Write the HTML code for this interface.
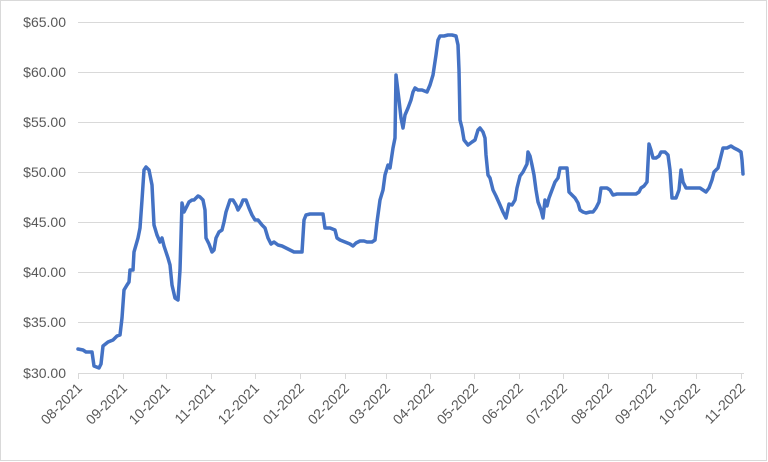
<!DOCTYPE html>
<html><head><meta charset="utf-8"><style>
html,body{margin:0;padding:0;background:#fff;}
svg{display:block;font-family:"Liberation Sans",sans-serif;}
</style></head><body>
<svg width="768" height="462" viewBox="0 0 768 462">
<rect x="0.5" y="0.5" width="766" height="460" fill="#fff" stroke="#d9d9d9"/>
<g stroke="#d9d9d9" stroke-width="1">
<line x1="78" x2="744" y1="22.5" y2="22.5"/>
<line x1="78" x2="744" y1="72.5" y2="72.5"/>
<line x1="78" x2="744" y1="122.5" y2="122.5"/>
<line x1="78" x2="744" y1="172.5" y2="172.5"/>
<line x1="78" x2="744" y1="222.5" y2="222.5"/>
<line x1="78" x2="744" y1="272.5" y2="272.5"/>
<line x1="78" x2="744" y1="322.5" y2="322.5"/>
<line x1="78" x2="744" y1="373.5" y2="373.5"/>
<path d="M78.5 373v6M123.5 373v6M166.5 373v6M211.5 373v6M255.5 373v6M300.5 373v6M345.5 373v6M386.5 373v6M430.5 373v6M474.5 373v6M519.5 373v6M563.5 373v6M608.5 373v6M652.5 373v6M696.5 373v6M741.5 373v6"/>
</g>
<g fill="#595959" font-size="14" text-anchor="end">
<text x="66" y="27">$65.00</text>
<text x="66" y="77">$60.00</text>
<text x="66" y="127">$55.00</text>
<text x="66" y="177">$50.00</text>
<text x="66" y="227">$45.00</text>
<text x="66" y="277">$40.00</text>
<text x="66" y="327">$35.00</text>
<text x="66" y="378">$30.00</text>
</g>
<g fill="#595959" font-size="14" text-anchor="end">
<text transform="translate(83,389) rotate(-45)">08-2021</text>
<text transform="translate(128,389) rotate(-45)">09-2021</text>
<text transform="translate(171,389) rotate(-45)">10-2021</text>
<text transform="translate(216,389) rotate(-45)">11-2021</text>
<text transform="translate(260,389) rotate(-45)">12-2021</text>
<text transform="translate(305,389) rotate(-45)">01-2022</text>
<text transform="translate(350,389) rotate(-45)">02-2022</text>
<text transform="translate(391,389) rotate(-45)">03-2022</text>
<text transform="translate(435,389) rotate(-45)">04-2022</text>
<text transform="translate(479,389) rotate(-45)">05-2022</text>
<text transform="translate(524,389) rotate(-45)">06-2022</text>
<text transform="translate(568,389) rotate(-45)">07-2022</text>
<text transform="translate(613,389) rotate(-45)">08-2022</text>
<text transform="translate(657,389) rotate(-45)">09-2022</text>
<text transform="translate(701,389) rotate(-45)">10-2022</text>
<text transform="translate(746,389) rotate(-45)">11-2022</text>
</g>
<polyline fill="none" stroke="#4472C4" stroke-width="3.5" stroke-linejoin="round" stroke-linecap="round" points="78,349 83,350 86,352 92,352 94,366 99,368 101,364 103,346 108,342 113,340 117,336 120,335 122,318 124,290 127,285 129,282 130,270 133,270 134,252 138,238 140,228 142,200 144,170 146,167 149,170 152,185 154,225 157,235 160,242 162,238 164,246 166,252 168,258 170,265 172,285 175,298 178,300 180,270 182,203 184,212 187,206 189,202 192,200 194,200 196,198 198,196 200,197 203,200 205,210 206,238 209,244 212,252 214,250 216,238 219,232 222,230 224,222 226,212 230,200 233,200 236,205 238,210 241,205 243,200 246,200 249,208 252,215 255,220 258,220 262,225 265,228 268,238 271,244 274,242 278,245 282,246 286,248 290,250 294,252 298,252 302,252 304,220 306,215 310,214 315,214 320,214 323,214 325,228 330,228 335,230 337,238 340,240 345,242 350,244 353,246 356,243 360,241 364,241 367,242 372,242 375,240 377,222 380,200 383,190 385,175 388,165 390,168 393,148 395,138 396,75 399,100 401,118 403,128 405,115 408,108 411,100 413,92 415,88 418,90 422,90 427,92 430,85 433,75 436,55 438,40 440,36 444,36 448,35 452,35 456,36 458,45 459,70 460,120 462,128 464,140 468,145 472,142 475,140 478,130 480,128 483,132 485,138 486,155 488,175 490,178 493,190 496,196 500,205 503,212 506,218 509,204 512,205 515,200 517,188 520,176 523,172 525,168 527,164 528,152 530,156 532,165 534,175 536,190 538,202 541,210 543,218 545,200 547,206 549,198 552,190 555,182 558,178 560,168 564,168 567,168 569,192 572,195 575,198 578,203 580,210 583,212 586,213 590,212 593,212 596,208 599,202 601,188 604,188 607,188 610,190 613,195 617,194 621,194 626,194 631,194 636,194 639,192 641,188 644,186 647,182 649,144 651,150 653,158 656,158 659,156 661,152 665,152 668,155 670,170 672,198 676,198 679,190 681,170 683,182 686,188 690,188 695,188 700,188 703,190 706,192 709,188 712,180 714,172 718,168 720,160 723,148 727,148 731,146 734,148 738,150 741,152 742,160 743,174"/>
</svg>
</body></html>
